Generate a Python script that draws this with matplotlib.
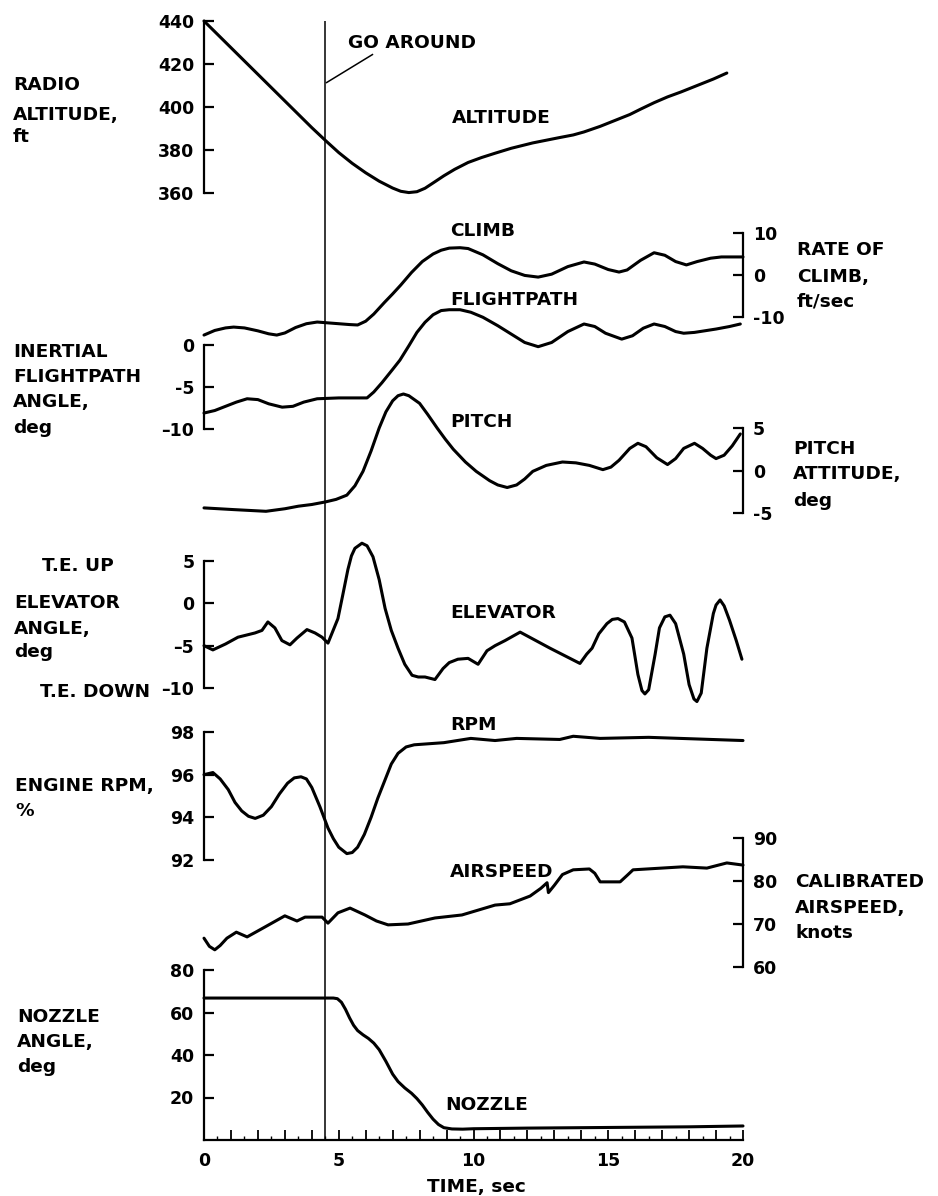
import numpy as np
import matplotlib
matplotlib.use("Agg")
import matplotlib.pyplot as plt
from matplotlib.ticker import FixedLocator, FixedFormatter, MultipleLocator

plt.rcParams['font.family'] = 'DejaVu Sans'
plt.rcParams['font.weight'] = 'bold'
plt.rcParams['axes.unicode_minus'] = False

# time histories (time in sec)
alt_t = [0, 1, 2, 3, 4, 4.5, 5, 5.5, 6, 6.5, 7, 7.3, 7.6, 7.9, 8.2, 8.6, 8.9, 9.3, 9.8, 10.3, 10.8, 11.4, 12.2,
         13.2, 13.7, 14.1, 14.7, 15.3, 15.8, 16.2, 16.7, 17.2, 17.7, 18.3, 18.9, 19.4]
alt_v = [440, 427.6, 415.2, 402.8, 390.4, 384.5, 378.8, 373.8, 369.4, 365.5, 362.3, 360.8, 360.2, 360.6, 362.2,
         365.5, 368, 371, 374.2, 376.5, 378.5, 380.8, 383.3, 385.8, 387, 388.4, 391, 394, 396.5, 399, 402,
         404.7, 407, 410, 413, 415.8]

clb_t = [0, 0.4, 0.8, 1.1, 1.5, 2.0, 2.4, 2.7, 3.0, 3.4, 3.8, 4.2, 4.6, 5.0, 5.4, 5.7, 6.0, 6.3, 6.7, 7.0, 7.3,
         7.7, 8.1, 8.5, 8.8, 9.1, 9.5, 9.8, 10.35, 10.9, 11.4, 11.9, 12.4, 12.9, 13.5, 14.1, 14.5, 15.0, 15.4,
         15.7, 16.2, 16.7, 17.1, 17.5, 17.9, 18.3, 18.8, 19.2, 20]
clb_v = [-14.3, -13.2, -12.6, -12.4, -12.6, -13.3, -14.0, -14.3, -13.8, -12.5, -11.6, -11.2, -11.4, -11.6, -11.8,
         -11.9, -11.0, -9.3, -6.5, -4.5, -2.4, 0.6, 3.2, 5.0, 5.9, 6.4, 6.5, 6.3, 4.8, 2.7, 1.0, -0.1, -0.5, 0.2,
         2.0, 3.1, 2.6, 1.3, 0.7, 1.2, 3.5, 5.3, 4.7, 3.2, 2.4, 3.2, 4.0, 4.3, 4.3]

fp_t = [0, 0.4, 0.8, 1.2, 1.6, 2.0, 2.4, 2.9, 3.3, 3.7, 4.2, 5.0, 6.05, 6.3, 6.6, 7.0, 7.27, 7.6, 7.9, 8.2, 8.5,
        8.8, 9.1, 9.5, 9.9, 10.35, 10.9, 11.4, 11.9, 12.4, 12.9, 13.5, 14.1, 14.5, 14.9, 15.5, 15.9, 16.3, 16.7,
        17.1, 17.5, 17.8, 18.2, 18.6, 19.0, 19.5, 19.9]
fp_v = [-8.1, -7.8, -7.3, -6.8, -6.4, -6.5, -7.0, -7.4, -7.3, -6.8, -6.4, -6.3, -6.3, -5.6, -4.5, -2.9, -1.8,
        -0.1, 1.5, 2.7, 3.6, 4.1, 4.2, 4.2, 3.9, 3.3, 2.3, 1.3, 0.3, -0.2, 0.3, 1.6, 2.5, 2.2, 1.4, 0.7, 1.1,
        2.0, 2.5, 2.2, 1.6, 1.4, 1.5, 1.7, 1.9, 2.2, 2.5]

pit_t = [0, 1.1, 2.3, 3.0, 3.5, 4.0, 4.5, 4.9, 5.3, 5.6, 5.9, 6.2, 6.5, 6.75, 7.0, 7.2, 7.4, 7.6, 8.0, 8.3, 8.65,
         8.95, 9.25, 9.7, 10.1, 10.6, 10.9, 11.25, 11.6, 11.9, 12.2, 12.7, 13.3, 13.8, 14.3, 14.8, 15.1, 15.4,
         15.8, 16.1, 16.4, 16.8, 17.2, 17.5, 17.8, 18.2, 18.5, 18.8, 19.0, 19.3, 19.6, 19.9]
pit_v = [-4.4, -4.6, -4.8, -4.5, -4.2, -4.0, -3.7, -3.4, -2.9, -1.8, -0.1, 2.3, 5.0, 6.9, 8.2, 8.8, 9.0, 8.8,
         7.9, 6.6, 5.0, 3.7, 2.5, 1.0, -0.1, -1.2, -1.7, -2.0, -1.7, -1.0, -0.1, 0.6, 1.0, 0.9, 0.6, 0.1, 0.4,
         1.2, 2.6, 3.2, 2.8, 1.5, 0.7, 1.4, 2.6, 3.2, 2.6, 1.8, 1.4, 1.8, 2.9, 4.3]

elv_t = [0, 0.33, 0.8, 1.26, 1.89, 2.15, 2.37, 2.63, 2.89, 3.19, 3.45, 3.82, 4.12, 4.38, 4.6, 4.97, 5.15, 5.34,
         5.47, 5.6, 5.86, 6.05, 6.27, 6.5, 6.72, 6.95, 7.2, 7.45, 7.72, 7.95, 8.2, 8.57, 8.87, 9.1, 9.42, 9.8,
         10.17, 10.5, 10.8, 11.17, 11.73, 12.84, 13.95, 14.2, 14.4, 14.65, 14.95, 15.15, 15.36, 15.6, 15.88,
         16.1, 16.25, 16.36, 16.5, 16.74, 16.9, 17.1, 17.29, 17.5, 17.8, 18.0, 18.18, 18.29, 18.45, 18.66,
         18.9, 19.0, 19.15, 19.3, 19.5, 19.75, 19.96]
elv_v = [-5.0, -5.5, -4.8, -4.0, -3.5, -3.2, -2.2, -2.9, -4.4, -4.9, -4.1, -3.1, -3.5, -4.0, -4.7, -1.8, 1.0,
         4.0, 5.6, 6.5, 7.1, 6.8, 5.5, 2.8, -0.6, -3.2, -5.3, -7.2, -8.5, -8.7, -8.7, -9.0, -7.7, -7.0, -6.6,
         -6.5, -7.2, -5.6, -5.0, -4.4, -3.4, -5.3, -7.1, -6.0, -5.3, -3.6, -2.4, -1.9, -1.8, -2.2, -4.1, -8.4,
         -10.3, -10.7, -10.2, -6.0, -2.9, -1.6, -1.4, -2.4, -6.0, -9.6, -11.3, -11.6, -10.6, -5.3, -1.2, -0.2,
         0.4, -0.3, -2.0, -4.4, -6.6]

rpm_t = [0, 0.33, 0.6, 0.9, 1.15, 1.4, 1.65, 1.9, 2.2, 2.5, 2.8, 3.1, 3.35, 3.6, 3.8, 4.0, 4.3, 4.6, 4.8, 5.0,
         5.3, 5.5, 5.7, 5.95, 6.2, 6.45, 6.7, 6.95, 7.2, 7.5, 7.8, 8.9, 9.9, 10.8, 11.6, 13.2, 13.7, 14.7, 16.5, 20]
rpm_v = [96.0, 96.1, 95.8, 95.3, 94.7, 94.3, 94.05, 93.95, 94.1, 94.5, 95.1, 95.6, 95.85, 95.9, 95.8, 95.4,
         94.5, 93.5, 93.0, 92.6, 92.3, 92.35, 92.6, 93.2, 94.0, 94.9, 95.7, 96.5, 97.0, 97.3, 97.4, 97.5, 97.7,
         97.6, 97.7, 97.65, 97.8, 97.7, 97.75, 97.6]

spd_t = [0, 0.2, 0.4, 0.6, 0.85, 1.2, 1.6, 2.26, 3.0, 3.45, 3.75, 4.38, 4.6, 4.97, 5.42, 5.97, 6.4, 6.83, 7.57,
         8.57, 9.57, 10.8, 11.35, 12.1, 12.5, 12.73, 12.78, 13.0, 13.3, 13.7, 14.3, 14.5, 14.7, 15.44, 15.7,
         15.92, 17.77, 18.66, 19.4, 20]
spd_v = [66.7, 64.8, 64.0, 65.0, 66.7, 68.1, 67.0, 69.3, 71.9, 70.7, 71.6, 71.6, 70.2, 72.6, 73.7, 72.1, 70.7,
         69.8, 70.0, 71.4, 72.1, 74.4, 74.7, 76.5, 78.3, 79.6, 77.3, 79.0, 81.5, 82.6, 82.8, 81.8, 79.8, 79.8,
         81.3, 82.6, 83.3, 83.0, 84.2, 83.7]

noz_t = [0, 4.8, 4.95, 5.1, 5.25, 5.4, 5.55, 5.7, 5.9, 6.1, 6.3, 6.5, 6.75, 7.0, 7.2, 7.45, 7.7, 7.9, 8.1, 8.3,
         8.5, 8.7, 8.9, 9.2, 9.6, 10, 12, 15, 18, 20]
noz_v = [66.8, 66.8, 66.5, 64.8, 61.5, 57.5, 54, 51.5, 49.5, 47.8, 45.6, 42.5, 37, 31, 27.5, 24.5, 22, 19.5,
         16.5, 13, 9.8, 7.3, 5.8, 5.2, 5.1, 5.3, 5.6, 5.9, 6.2, 6.6]

go_around_t = 4.5

W, H = 938, 1196
X0, X1 = 204, 743  # pixel span of 0..20 s
fig = plt.figure(figsize=(W / 100, H / 100), dpi=100)

LW = 2.2
FS = 13.3
TFS = 12.5


def px_axes(top, bottom):
    ax = fig.add_axes([X0 / W, 1 - bottom / H, (X1 - X0) / W, (bottom - top) / H])
    ax.patch.set_alpha(0)
    ax.set_xlim(0, 20)
    for s in ax.spines.values():
        s.set_visible(False)
    return ax


def strip(top, bottom, ylim, ticks, labels, side='left'):
    ax = px_axes(top, bottom)
    ax.set_ylim(*ylim)
    ax.spines[side].set_visible(True)
    ax.spines[side].set_linewidth(1.6)
    ax.set_xticks([])
    ax.yaxis.set_ticks_position(side)
    ax.set_yticks(ticks)
    ax.set_yticklabels(labels)
    ax.tick_params(axis='y', direction='in', length=7, width=1.6, pad=7, labelsize=TFS)
    return ax


def curve(ax, t, v):
    ax.plot(t, v, color='black', lw=LW, clip_on=False,
            solid_joinstyle='round', solid_capstyle='round')


def ftext(x, y, s, size=FS, **kw):
    fig.text(x / W, 1 - y / H, s, fontsize=size, fontweight='bold', va='baseline', **kw)


# altitude
ax = strip(21, 193, (360, 440), [360, 380, 400, 420, 440], ['360', '380', '400', '420', '440'])
curve(ax, alt_t, alt_v)

# rate of climb
ax = strip(233, 317, (-10, 10), [-10, 0, 10], ['-10', '0', '10'], side='right')
curve(ax, clb_t, clb_v)

# flightpath
ax = strip(345, 429, (-10, 0), [-10, -5, 0], ['\u201310', '-5', '0'])
curve(ax, fp_t, fp_v)

# pitch
ax = strip(428, 513, (-5, 5), [-5, 0, 5], ['-5', '0', '5'], side='right')
curve(ax, pit_t, pit_v)

# elevator
ax = strip(561, 688, (-10, 5), [-10, -5, 0, 5], ['\u201310', '\u20135', '0', '5'])
curve(ax, elv_t, elv_v)

# rpm
ax = strip(732, 860, (92, 98), [92, 94, 96, 98], ['92', '94', '96', '98'])
curve(ax, rpm_t, rpm_v)

# airspeed
ax = strip(838, 967, (60, 90), [60, 70, 80, 90], ['60', '70', '80', '90'], side='right')
curve(ax, spd_t, spd_v)

# nozzle + time axis
ax = strip(970, 1140, (0, 80), [20, 40, 60, 80], ['20', '40', '60', '80'])
curve(ax, noz_t, noz_v)
ax.spines['bottom'].set_visible(True)
ax.spines['bottom'].set_linewidth(1.6)
ax.xaxis.set_major_locator(FixedLocator(np.arange(0, 21, 1)))
ax.xaxis.set_major_formatter(FixedFormatter([str(i) if i % 5 == 0 else '' for i in range(21)]))
ax.xaxis.set_minor_locator(MultipleLocator(0.5))
ax.tick_params(axis='x', which='major', direction='in', length=7, width=1.3, pad=9, labelsize=TFS)
ax.tick_params(axis='x', which='minor', direction='in', length=3, width=1.0)

# go-around marker
ov = px_axes(21, 1140)
ov.set_ylim(0, 1)
ov.set_xticks([])
ov.set_yticks([])
ov.axvline(go_around_t, color='black', lw=1.1)
ov.plot([go_around_t + 0.05, 6.25], [0.945, 0.970], color='black', lw=1.1)
ftext(348, 48, 'GO AROUND')

# trace names
ftext(452, 123, 'ALTITUDE')
ftext(450, 236, 'CLIMB')
ftext(450, 305, 'FLIGHTPATH')
ftext(450, 427, 'PITCH')
ftext(450, 618, 'ELEVATOR')
ftext(450, 730, 'RPM')
ftext(450, 877, 'AIRSPEED')
ftext(445, 1110, 'NOZZLE')
ftext(476, 1192, 'TIME, sec', ha='center')

# left axis titles
for s, y in [('RADIO', 90), ('ALTITUDE,', 120), ('ft', 142)]:
    ftext(13, y, s)
for s, y in [('INERTIAL', 357), ('FLIGHTPATH', 382), ('ANGLE,', 407), ('deg', 433)]:
    ftext(13, y, s)
ftext(42, 571, 'T.E. UP')
for s, y in [('ELEVATOR', 608), ('ANGLE,', 634), ('deg', 657)]:
    ftext(14, y, s)
ftext(40, 697, 'T.E. DOWN')
for s, y in [('ENGINE RPM,', 791), ('%', 816)]:
    ftext(15, y, s)
for s, y in [('NOZZLE', 1022), ('ANGLE,', 1047), ('deg', 1072)]:
    ftext(17, y, s)

# right axis titles
for s, y in [('RATE OF', 255), ('CLIMB,', 282), ('ft/sec', 307)]:
    ftext(797, y, s)
for s, y in [('PITCH', 454), ('ATTITUDE,', 479), ('deg', 506)]:
    ftext(793, y, s)
for s, y in [('CALIBRATED', 887), ('AIRSPEED,', 913), ('knots', 938)]:
    ftext(795, y, s)

fig.savefig('out.png', dpi=100)
